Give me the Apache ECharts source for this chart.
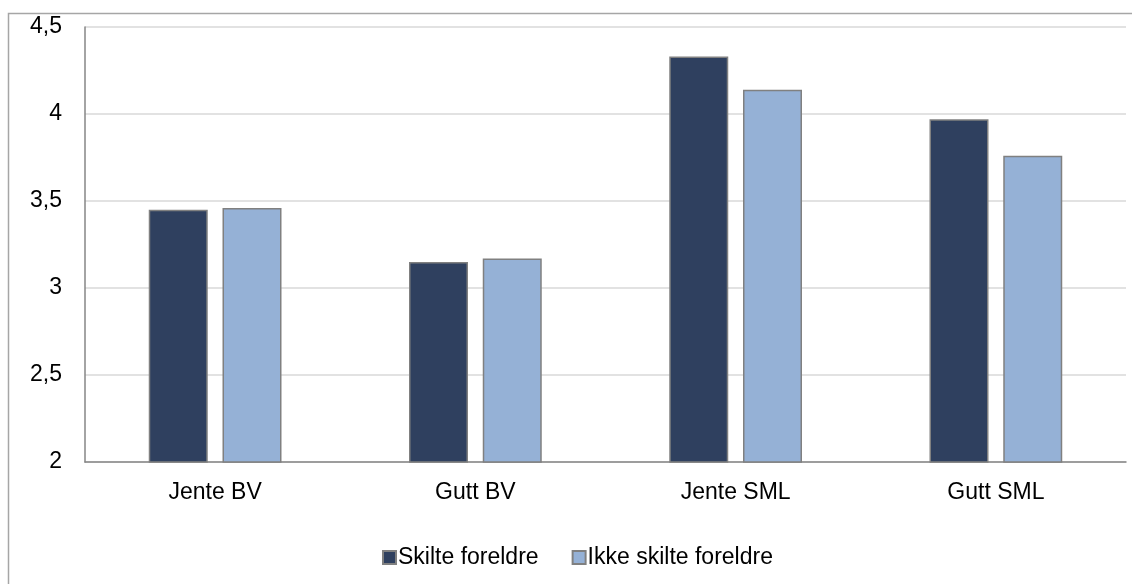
<!DOCTYPE html>
<html><head><meta charset="utf-8">
<script src="https://cdn.jsdelivr.net/npm/echarts@6/dist/echarts.min.js"></script>
<style>html,body{margin:0;padding:0;background:#fff}#c{width:1132px;height:584px}</style>
</head><body><div id="c"></div>
<script>
const categories = ['Jente BV', 'Gutt BV', 'Jente SML', 'Gutt SML'];
const skilte = [3.45, 3.15, 4.33, 3.97];
const ikkeSkilte = [3.46, 3.17, 4.14, 3.76];
const seriesNames = ['Skilte foreldre', 'Ikke skilte foreldre'];

const chart = echarts.init(document.getElementById('c'));
const font = 'Arial, "Liberation Sans", sans-serif';
chart.setOption({
  animation: false,
  graphic: [{
    type: 'rect', shape: {x: 8.5, y: 13.5, width: 1130, height: 620},
    style: {fill: 'none', stroke: '#a6a6a6', lineWidth: 1.5}, silent: true, z: -1
  }],
  grid: {left: 85, right: 6, top: 27, bottom: 122},
  legend: {
    left: 377, top: 541, itemWidth: 13, itemHeight: 13, itemGap: 33, icon: 'rect',
    textStyle: {fontFamily: font, fontSize: 23, color: '#000', padding: [0,0,0,-3]},
    data: seriesNames
  },
  xAxis: {
    type: 'category', data: categories,
    axisLine: {lineStyle: {color: '#868686', width: 1.5}},
    axisTick: {show: false},
    axisLabel: {fontFamily: font, fontSize: 23, color: '#000', margin: 19}
  },
  yAxis: {
    type: 'value', min: 2, max: 4.5, interval: 0.5,
    axisLine: {show: true, lineStyle: {color: '#868686', width: 1.5}},
    splitLine: {lineStyle: {color: '#d9d9d9', width: 1.5}},
    axisLabel: {fontFamily: font, fontSize: 23, color: '#000', margin: 23,
      formatter: v => String(v).replace('.', ',')}
  },
  series: [
    {name: seriesNames[0], type: 'bar', data: skilte, barWidth: 59, barGap: '25%',
     itemStyle: {color: '#2f405f', borderColor: '#808080', borderWidth: 1.5}},
    {name: seriesNames[1], type: 'bar', data: ikkeSkilte, barWidth: 59, barGap: '25%',
     itemStyle: {color: '#95b1d6', borderColor: '#808080', borderWidth: 1.5}}
  ]
});
</script></body></html>
